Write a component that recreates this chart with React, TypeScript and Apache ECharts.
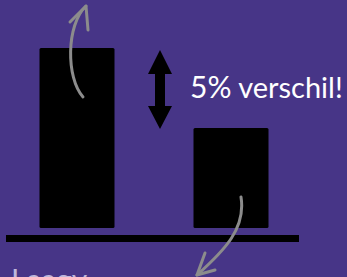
import React, { useEffect, useRef } from "react";
import * as echarts from "echarts";

const categories = ["A", "B"];
const values = [90, 50];
const diffLabel = "5%";
const diffText = " verschil!";
const bottomLabel = "Laagv";

export default function App() {
  const ref = useRef<HTMLDivElement>(null);
  useEffect(() => {
    const chart = echarts.init(ref.current!, null, { renderer: "svg" });
    const grey = "#8c8c8c";
    const arrowStyle = { stroke: grey, lineWidth: 3, fill: "none", lineCap: "round", lineJoin: "round" };
    chart.setOption({
      animation: false,
      backgroundColor: "#473587",
      grid: { left: 0, right: 39, top: 28, bottom: 49 },
      xAxis: {
        type: "category",
        data: categories,
        axisLine: { show: false },
        axisTick: { show: false },
        axisLabel: { show: false },
      },
      yAxis: {
        type: "value",
        min: 0,
        max: 100,
        show: false,
        splitLine: { show: false },
      },
      series: [
        {
          type: "bar",
          data: values,
          barWidth: 75,
          z: 1,
          itemStyle: { color: "#000000", borderRadius: 1.5 },
        },
      ],
      graphic: [
        {
          type: "rect",
          z: 100,
          shape: { x: 6, y: 235, width: 293, height: 7 },
          style: { fill: "#000000" },
        },
        {
          type: "polygon",
          z: 100,
          shape: {
            points: [
              [160, 50], [172, 74], [165, 74], [165, 106], [172, 106],
              [160, 129], [148, 106], [155, 106], [155, 74], [148, 74],
            ],
          },
          style: { fill: "#000000" },
        },
        {
          type: "text",
          z: 100,
          x: 190,
          y: 101,
          style: {
            text: "{a|" + diffLabel + "}{b|" + diffText + "}",
            verticalAlign: "bottom",
            rich: {
              a: { fontSize: 30, fontFamily: "Lato", fill: "#ffffff" },
              b: { fontSize: 29, fontFamily: "Lato", fill: "#ffffff" },
            },
            fill: "#ffffff",
          },
        },
        {
          type: "text",
          z: 100,
          x: 11,
          y: 264,
          style: {
            text: bottomLabel,
            fontSize: 30,
            fontFamily: "Lato",
            fill: "#c0b8dc",
            verticalAlign: "top",
          },
        },
        {
          type: "bezierCurve",
          z: 100,
          shape: { x1: 83, y1: 97, x2: 86, y2: 6, cpx1: 66, cpy1: 78, cpx2: 66, cpy2: 25 },
          style: arrowStyle,
        },
        {
          type: "polyline",
          z: 100,
          shape: { points: [[70, 22], [86, 6], [88, 30]] },
          style: arrowStyle,
        },
        {
          type: "bezierCurve",
          z: 100,
          shape: { x1: 241, y1: 197, x2: 197, y2: 275, cpx1: 246, cpy1: 228, cpx2: 225, cpy2: 250 },
          style: arrowStyle,
        },
        {
          type: "polyline",
          z: 100,
          shape: { points: [[205, 253], [197, 275], [215, 270]] },
          style: arrowStyle,
        },
      ],
    });
    return () => chart.dispose();
  }, []);
  return (
    <div
      ref={ref}
      style={{ position: "absolute", left: 0, top: 0, width: 347, height: 277 }}
    />
  );
}
